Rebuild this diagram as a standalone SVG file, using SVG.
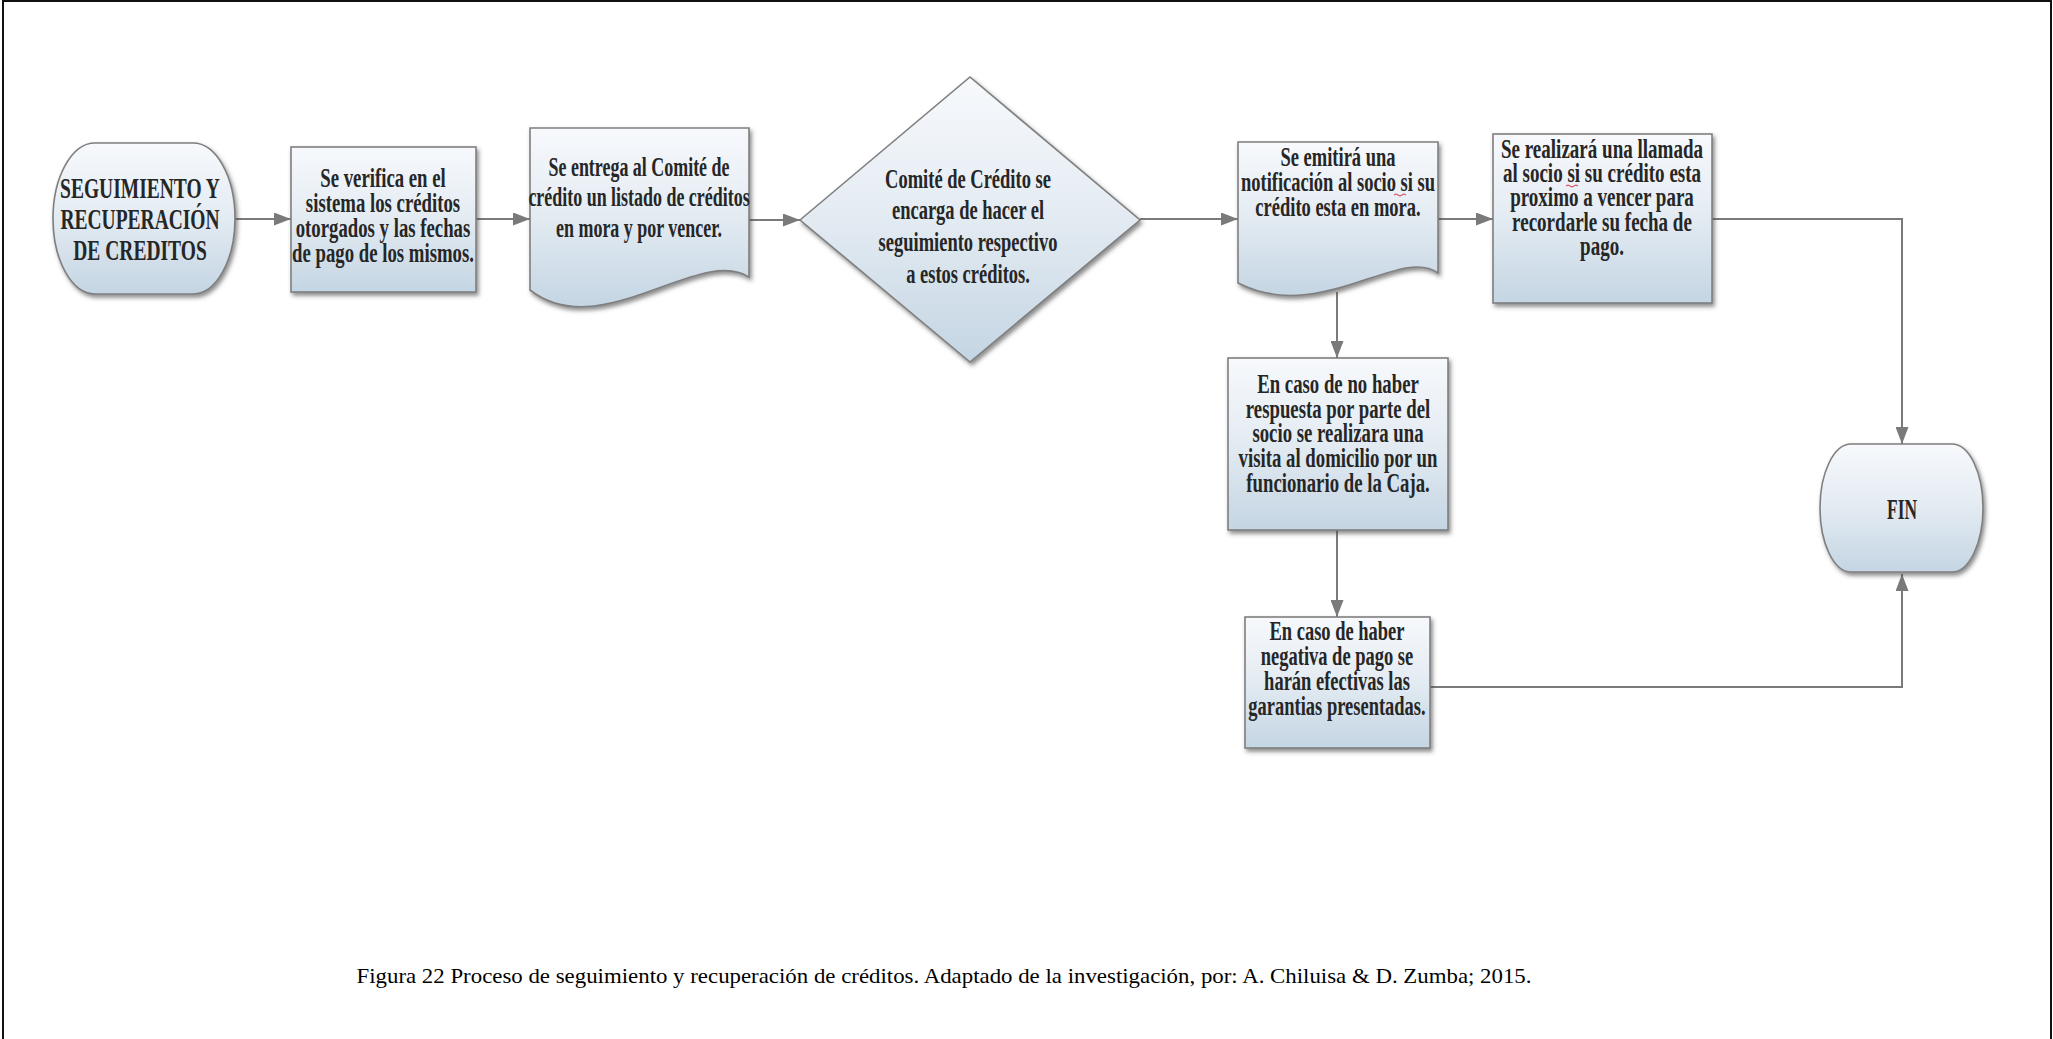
<svg xmlns="http://www.w3.org/2000/svg" width="2053" height="1039" viewBox="0 0 2053 1039">
<defs>
<linearGradient id="fill" x1="0" y1="0" x2="0" y2="1">
<stop offset="0" stop-color="#f7f9fc"/>
<stop offset="0.5" stop-color="#e3ebf2"/>
<stop offset="1" stop-color="#c4d5e3"/>
</linearGradient>
<filter id="sh" x="-10%" y="-10%" width="125%" height="130%">
<feDropShadow dx="2" dy="3" stdDeviation="2" flood-color="#404040" flood-opacity="0.6"/>
</filter>
<marker id="arr" markerUnits="userSpaceOnUse" markerWidth="17" markerHeight="13" refX="17" refY="6.5" orient="auto">
<path d="M0,0 L17,6.5 L0,13 Z" fill="#7a7a7a"/>
</marker>
<style>
.shape{fill:url(#fill);stroke:#7f7f7f;stroke-width:1.6;filter:url(#sh)}
.t{font-family:"Liberation Serif","Times New Roman",serif;font-size:27px;font-weight:bold;fill:#262626;text-anchor:middle}
.big{font-size:30px}
.fin{font-size:30px;font-weight:bold}
.conn{fill:none;stroke:#7a7a7a;stroke-width:2}
.frame{stroke:#111;stroke-width:2;fill:none}
.sq{fill:none;stroke:#d03040;stroke-width:1}
.cap{font-family:"Liberation Serif","Times New Roman",serif;font-size:22px;fill:#000;text-anchor:middle}
</style>
</defs>
<rect width="2053" height="1039" fill="#fff"/>
<path class="frame" d="M3,1039 V1 H2051 V1039"/>

<g id="connectors">
<path class="conn" marker-end="url(#arr)" d="M235,219 H291"/>
<path class="conn" marker-end="url(#arr)" d="M476,219 H530"/>
<path class="conn" marker-end="url(#arr)" d="M749,220 H800"/>
<path class="conn" marker-end="url(#arr)" d="M1140,219 H1238"/>
<path class="conn" marker-end="url(#arr)" d="M1438,219 H1493"/>
<path class="conn" marker-end="url(#arr)" d="M1712,219 H1902 V444"/>
<path class="conn" marker-end="url(#arr)" d="M1337,292 V358"/>
<path class="conn" marker-end="url(#arr)" d="M1337,530 V617"/>
<path class="conn" marker-end="url(#arr)" d="M1430,687 H1902 V574"/>
</g>

<g id="start">
<path class="shape" d="M95,143 H193 A42,75.5 0 0 1 193,294 H95 A42,75.5 0 0 1 95,143 Z"/>
<text class="t big" transform="translate(140 0) scale(0.65 1)"><tspan x="0" y="198">SEGUIMIENTO Y</tspan><tspan x="0" y="229">RECUPERACIÓN</tspan><tspan x="0" y="260">DE CREDITOS</tspan></text>
</g>

<g id="verifica">
<rect class="shape" x="291" y="147" width="185" height="145"/>
<text class="t" transform="translate(383 0) scale(0.695 1)"><tspan x="0" y="187">Se verifica en el</tspan><tspan x="0" y="212">sistema los créditos</tspan><tspan x="0" y="237">otorgados y las fechas</tspan><tspan x="0" y="262">de pago de los mismos.</tspan></text>
</g>

<g id="entrega">
<path class="shape" d="M530,128 H749 V277 C700,245 600,345 530,290 Z"/>
<text class="t" transform="translate(639 0) scale(0.665 1)"><tspan x="0" y="176">Se entrega al Comité de</tspan><tspan x="0" y="206">crédito un listado de créditos</tspan><tspan x="0" y="237">en mora y por vencer.</tspan></text>
</g>

<g id="comite">
<path class="shape" d="M800,220 L970,77 L1140,220 L970,362 Z"/>
<text class="t" transform="translate(968 0) scale(0.685 1)"><tspan x="0" y="188">Comité de Crédito se</tspan><tspan x="0" y="219">encarga de hacer el</tspan><tspan x="0" y="251">seguimiento respectivo</tspan><tspan x="0" y="283">a estos créditos.</tspan></text>
</g>

<g id="notificacion">
<path class="shape" d="M1238,142 H1438 V273 C1400,245 1320,325 1238,283 Z"/>
<text class="t" transform="translate(1338 0) scale(0.685 1)"><tspan x="0" y="166">Se emitirá una</tspan><tspan x="0" y="191">notificación al socio si su</tspan><tspan x="0" y="216">crédito esta en mora.</tspan></text>
<path class="sq" d="M1394,195 q2,-2 4,0 t4,0 t4,0"/>
</g>

<g id="llamada">
<rect class="shape" x="1493" y="134" width="219" height="169"/>
<text class="t" transform="translate(1602 0) scale(0.705 1)"><tspan x="0" y="158">Se realizará una llamada</tspan><tspan x="0" y="182">al socio si su crédito esta</tspan><tspan x="0" y="206">proximo a vencer para</tspan><tspan x="0" y="231">recordarle su fecha de</tspan><tspan x="0" y="255">pago.</tspan></text>
<path class="sq" d="M1566,186 q2,-2 4,0 t4,0 t4,0"/>
</g>

<g id="visita">
<rect class="shape" x="1228" y="358" width="220" height="172"/>
<text class="t" transform="translate(1338 0) scale(0.695 1)"><tspan x="0" y="393">En caso de no haber</tspan><tspan x="0" y="418">respuesta por parte del</tspan><tspan x="0" y="442">socio se realizara una</tspan><tspan x="0" y="467">visita al domicilio por un</tspan><tspan x="0" y="492">funcionario de la Caja.</tspan></text>
</g>

<g id="garantias">
<rect class="shape" x="1245" y="617" width="185" height="131"/>
<text class="t" transform="translate(1337 0) scale(0.685 1)"><tspan x="0" y="640">En caso de haber</tspan><tspan x="0" y="665">negativa de pago se</tspan><tspan x="0" y="690">harán efectivas las</tspan><tspan x="0" y="715">garantias presentadas.</tspan></text>
</g>

<g id="fin">
<path class="shape" d="M1851,444 H1952 A31,64 0 0 1 1952,572 H1851 A31,64 0 0 1 1851,444 Z"/>
<text class="t fin" transform="translate(1902 0) scale(0.58 1)"><tspan x="0" y="519">FIN</tspan></text>
</g>

<text class="cap" x="944" y="983" textLength="1175" lengthAdjust="spacingAndGlyphs">Figura 22 Proceso de seguimiento y recuperación de créditos. Adaptado de la investigación, por: A. Chiluisa &amp; D. Zumba; 2015.</text>
</svg>
